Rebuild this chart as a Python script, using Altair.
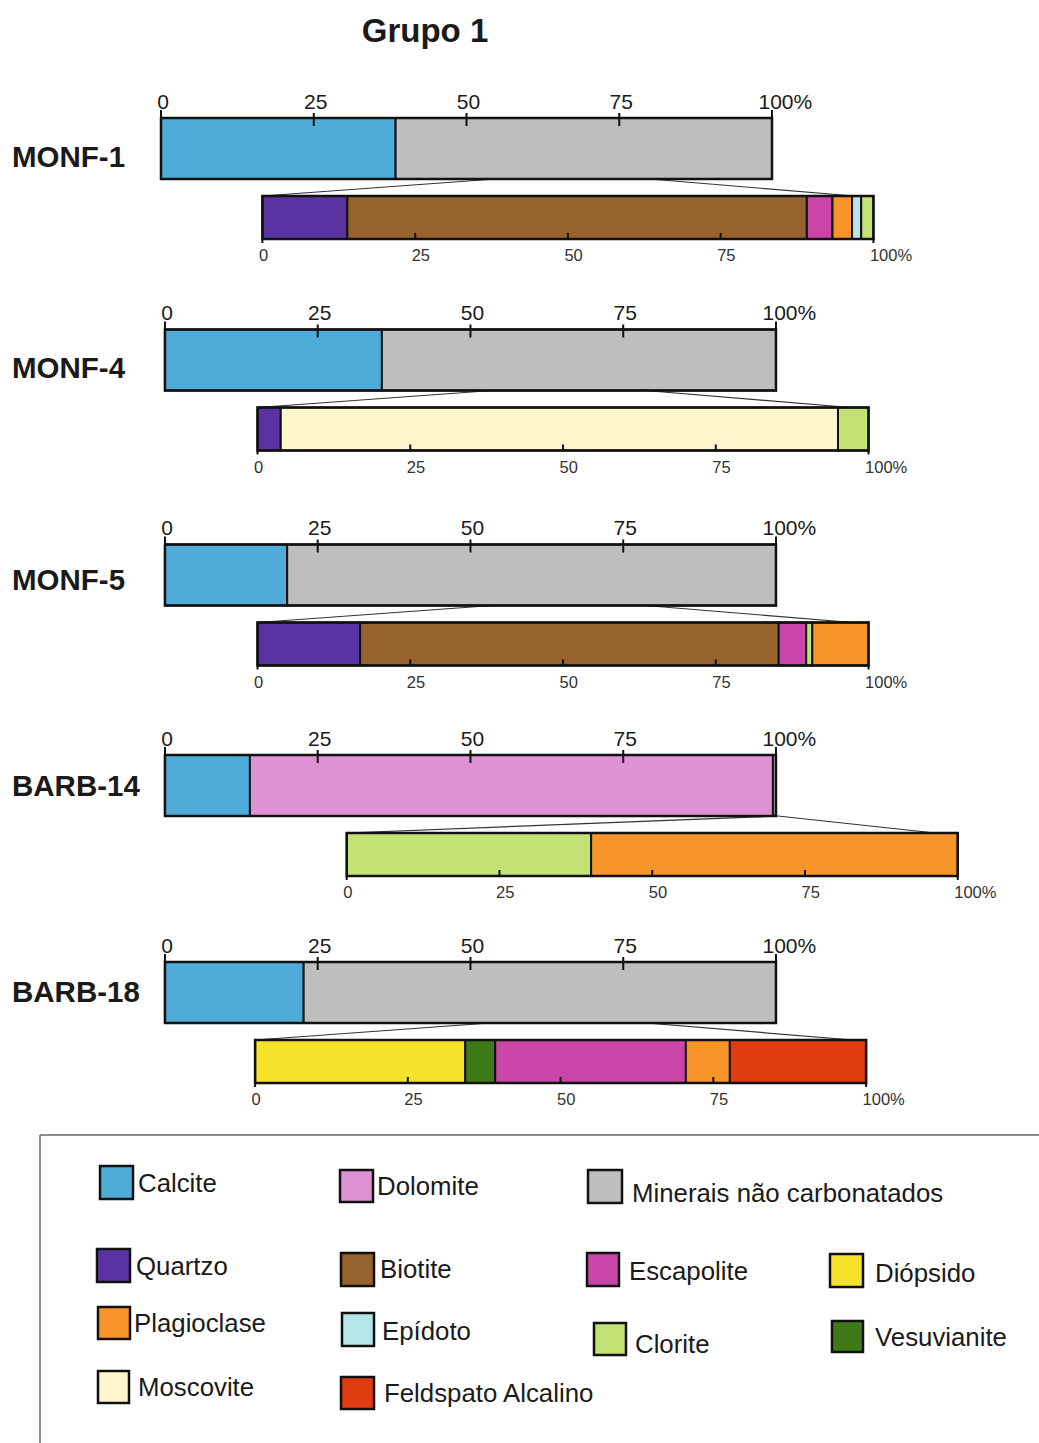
import altair as alt
import pandas as pd

# ---------------------------------------------------------------- data
SAMPLES = ["MONF-1", "MONF-4", "MONF-5", "BARB-14", "BARB-18"]

# whole-sample composition (%)
CALCITE = [38.4, 35.5, 20.0, 13.9, 22.7]
DOLOMITE = [0.0, 0.0, 0.0, 85.6, 0.0]
NAO_CARB = [61.6, 64.5, 80.0, 0.5, 77.3]

# breakdown of the non-carbonate fraction (%)
MONF1_MIN = ["Quartzo", "Biotite", "Escapolite", "Plagioclase", "Epídoto", "Clorite"]
MONF1_VAL = [13.9, 75.2, 4.2, 3.2, 1.5, 2.0]
MONF4_MIN = ["Quartzo", "Moscovite", "Clorite"]
MONF4_VAL = [3.8, 91.2, 5.0]
MONF5_MIN = ["Quartzo", "Biotite", "Escapolite", "Clorite", "Plagioclase"]
MONF5_VAL = [16.8, 68.5, 4.5, 1.0, 9.2]
BARB14_MIN = ["Clorite", "Plagioclase"]
BARB14_VAL = [40.0, 60.0]
BARB18_MIN = ["Diópsido", "Vesuvianite", "Escapolite", "Plagioclase", "Feldspato Alcalino"]
BARB18_VAL = [34.4, 4.9, 31.2, 7.2, 22.3]

SUB_MIN = [MONF1_MIN, MONF4_MIN, MONF5_MIN, BARB14_MIN, BARB18_MIN]
SUB_VAL = [MONF1_VAL, MONF4_VAL, MONF5_VAL, BARB14_VAL, BARB18_VAL]

TICKS = [0, 25, 50, 75, 100]
TICK_LABELS = ["0", "25", "50", "75", "100%"]

MINERALS = ["Calcite", "Dolomite", "Minerais não carbonatados", "Quartzo", "Biotite",
            "Escapolite", "Diópsido", "Plagioclase", "Epídoto", "Clorite",
            "Vesuvianite", "Moscovite", "Feldspato Alcalino"]
COLORS = ["#4FACD9", "#DE92D4", "#BEBEBE", "#5A33A3", "#97622C",
          "#C945A7", "#F6E22A", "#F7952A", "#B4E6E8", "#C2E276",
          "#3F7A18", "#FEF6CC", "#E13B12"]

# ---------------------------------------------------------------- layout
W, H = 1039, 1443
PX_PER_PCT = 6.11          # pixels per percentage point
ORIGIN_PX = 161            # pixel position of 0 % on the first bar
X_DOMAIN = [-ORIGIN_PX / PX_PER_PCT, (W - ORIGIN_PX) / PX_PER_PCT]


def px(v):
    """pixel column -> x-scale units"""
    return (v - ORIGIN_PX) / PX_PER_PCT


MAIN_SHIFT = [0.0, 0.65, 0.65, 0.65, 0.65]
SUB_SHIFT = [16.6, 15.8, 15.8, 30.4, 15.4]
ROW_TOP = [118, 329.5, 544.5, 755, 962]
MAIN_H, SUB_OFF, SUB_H = 61, 78, 43
ROW_LABEL_MID = [157, 368, 580, 786, 992]
CONN_MAIN = [(54.7, 80.0), (53.6, 78.6), (53.6, 78.6), (100.3, 100.3), (53.2, 78.8)]
CONN_SUB_END = [96.8, 97.0, 97.4, 96.3, 97.8]

FONT = "Liberation Sans"

seg_rows, box_rows, conn_rows, tick_rows = [], [], [], []
main_lab, sub_lab = [], []
for i, s in enumerate(SAMPLES):
    top = ROW_TOP[i]
    bot = top + MAIN_H
    stop = top + SUB_OFF
    sbot = stop + SUB_H
    m0, s0 = MAIN_SHIFT[i], SUB_SHIFT[i]

    acc = 0.0
    for name, v in zip(["Calcite", "Dolomite", "Minerais não carbonatados"],
                       [CALCITE[i], DOLOMITE[i], NAO_CARB[i]]):
        if v > 0:
            seg_rows.append(dict(mineral=name, x0=m0 + acc, x1=m0 + acc + v, y0=top, y1=bot))
        acc += v
    acc = 0.0
    for name, v in zip(SUB_MIN[i], SUB_VAL[i]):
        seg_rows.append(dict(mineral=name, x0=s0 + acc, x1=s0 + acc + v, y0=stop, y1=sbot))
        acc += v

    box_rows.append(dict(x0=m0, x1=m0 + 100, y0=top, y1=bot))
    box_rows.append(dict(x0=s0, x1=s0 + 100, y0=stop, y1=sbot))

    cl, cr = CONN_MAIN[i]
    conn_rows.append(dict(x=m0 + cl, x2=s0, y=bot, y2=stop))
    conn_rows.append(dict(x=m0 + cr, x2=s0 + CONN_SUB_END[i], y=bot, y2=stop))

    for t, lab in zip(TICKS, TICK_LABELS):
        if t in (0, 100):
            tick_rows.append(dict(x=m0 + t, y=top - 8, y2=top))
            tick_rows.append(dict(x=s0 + t, y=sbot, y2=sbot + 4))
        else:
            tick_rows.append(dict(x=m0 + t, y=top - 5, y2=top + 8))
            tick_rows.append(dict(x=s0 + t, y=sbot - 6, y2=sbot))
        if t == 100:
            main_lab.append(dict(x=m0 + t - 13.5 / PX_PER_PCT, y=top - 9.5, text=lab, al="left"))
        else:
            main_lab.append(dict(x=m0 + t + 2 / PX_PER_PCT, y=top - 9.5, text=lab, al="center"))
        sub_lab.append(dict(x=s0 + t - 3.5 / PX_PER_PCT, y=sbot + 22, text=lab))

seg_df = pd.DataFrame(seg_rows)
box_df = pd.DataFrame(box_rows)
conn_df = pd.DataFrame(conn_rows)
tick_df = pd.DataFrame(tick_rows)
main_lab_df = pd.DataFrame(main_lab)
sub_lab_df = pd.DataFrame(sub_lab)
row_lab_df = pd.DataFrame(dict(x=[px(12)] * len(SAMPLES),
                               y=[m + 10 for m in ROW_LABEL_MID], text=SAMPLES))
title_df = pd.DataFrame(dict(x=[px(425)], y=[42], text=["Grupo 1"]))

# legend entries: swatch box (left, top, right, bottom) and label anchor (x, baseline)
LEG_SWATCH = [(100, 1166, 133, 1199), (340, 1170, 373, 1202), (588, 1170, 622, 1203),
              (97, 1249, 130, 1282), (341, 1253, 374, 1286), (587, 1253, 619, 1286),
              (830, 1254, 863, 1287), (98, 1307, 130, 1339), (342, 1313, 374, 1346),
              (594, 1323, 626, 1355), (832, 1321, 863, 1352), (98, 1371, 129, 1403),
              (341, 1377, 374, 1409)]
LEG_LABEL = [(138, 1192), (377, 1195), (632, 1202),
             (136, 1275), (380, 1278), (629, 1280),
             (875, 1282), (134, 1332), (382, 1340),
             (635, 1353), (875, 1346), (138, 1396),
             (384, 1402)]
leg_df = pd.DataFrame(dict(
    mineral=MINERALS,
    x0=[px(a[0]) for a in LEG_SWATCH], y0=[a[1] for a in LEG_SWATCH],
    x1=[px(a[2]) for a in LEG_SWATCH], y1=[a[3] for a in LEG_SWATCH],
    lx=[px(a[0]) for a in LEG_LABEL], ly=[a[1] for a in LEG_LABEL],
))
frame_df = pd.DataFrame(dict(x=[px(40), px(40)], x2=[px(W + 5), px(40)],
                             y=[1135, 1135], y2=[1135, H + 5]))

# ---------------------------------------------------------------- encodings
xs = alt.Scale(domain=X_DOMAIN, nice=False, zero=False)


def X(f):
    return alt.X(f, type="quantitative", scale=xs, axis=None)


def Y(f):
    return alt.Y(f, type="quantitative", scale=None, axis=None)


color = alt.Color("mineral:N", scale=alt.Scale(domain=MINERALS, range=COLORS), legend=None)

connectors = alt.Chart(conn_df).mark_rule(color="#333333", strokeWidth=1.2).encode(
    x=X("x"), x2="x2", y=Y("y"), y2="y2")

segments = alt.Chart(seg_df).mark_rect(stroke="#111111", strokeWidth=2).encode(
    x=X("x0"), x2="x1", y=Y("y0"), y2="y1", color=color)

outlines = alt.Chart(box_df).mark_rect(fillOpacity=0, stroke="#111111", strokeWidth=2.5).encode(
    x=X("x0"), x2="x1", y=Y("y0"), y2="y1")

ticks = alt.Chart(tick_df).mark_rule(color="#111111", strokeWidth=2).encode(
    x=X("x"), y=Y("y"), y2="y2")

main_labels_c = alt.Chart(main_lab_df[main_lab_df.al == "center"]).mark_text(
    align="center", baseline="alphabetic", font=FONT, fontSize=21, color="#1a1a1a").encode(
    x=X("x"), y=Y("y"), text="text:N")
main_labels_l = alt.Chart(main_lab_df[main_lab_df.al == "left"]).mark_text(
    align="left", baseline="alphabetic", font=FONT, fontSize=21, color="#1a1a1a").encode(
    x=X("x"), y=Y("y"), text="text:N")
sub_labels = alt.Chart(sub_lab_df).mark_text(
    align="left", baseline="alphabetic", font=FONT, fontSize=16.5, color="#333333").encode(
    x=X("x"), y=Y("y"), text="text:N")

row_labels = alt.Chart(row_lab_df).mark_text(
    align="left", baseline="alphabetic", font=FONT, fontSize=29.5, fontWeight="bold",
    color="#1a1a1a").encode(x=X("x"), y=Y("y"), text="text:N")

title = alt.Chart(title_df).mark_text(
    align="center", baseline="alphabetic", font=FONT, fontSize=33, fontWeight="bold",
    color="#1a1a1a").encode(x=X("x"), y=Y("y"), text="text:N")

frame = alt.Chart(frame_df).mark_rule(color="#666666", strokeWidth=1.5).encode(
    x=X("x"), x2="x2", y=Y("y"), y2="y2")

leg_swatch = alt.Chart(leg_df).mark_rect(stroke="#111111", strokeWidth=2.5).encode(
    x=X("x0"), x2="x1", y=Y("y0"), y2="y1", color=color)
leg_text = alt.Chart(leg_df).mark_text(
    align="left", baseline="alphabetic", font=FONT, fontSize=25.8, color="#1a1a1a").encode(
    x=X("lx"), y=Y("ly"), text="mineral:N")

chart = alt.layer(
    connectors, segments, outlines, ticks, main_labels_c, main_labels_l, sub_labels,
    row_labels, title, frame, leg_swatch, leg_text
).properties(
    width=W, height=H, padding=0, autosize=alt.AutoSizeParams(type="none"),
    background="white"
).configure_view(strokeWidth=0)

chart.save("out.html", embed_options={"renderer": "svg", "actions": False})
